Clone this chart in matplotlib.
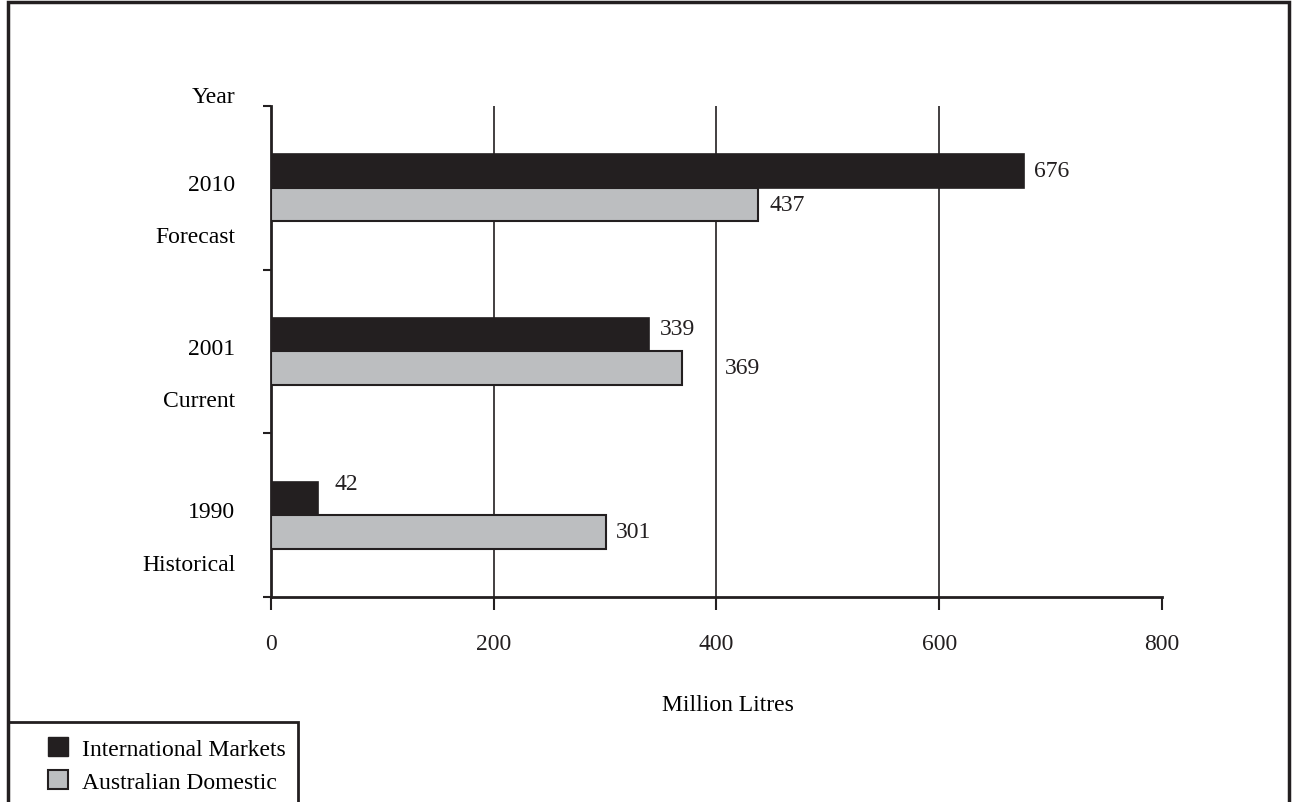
import matplotlib
matplotlib.use("Agg")
import matplotlib.pyplot as plt
from matplotlib.patches import Rectangle, Patch
import numpy as np

# données
years = ["1990", "2001", "2010"]
periods = ["Historical", "Current", "Forecast"]
international = [42, 339, 676]
domestic = [301, 369, 437]
xticks = [0, 200, 400, 600, 800]

plt.rcParams["font.family"] = ["Liberation Serif", "DejaVu Serif"]
plt.rcParams["font.size"] = 17

BLACK = "#231f20"
GREY = "#bcbec0"

fig = plt.figure(figsize=(12.94, 8.03), dpi=100)
ax = fig.add_axes([0.2094, 0.2553, 0.6886, 0.6115])

y = np.arange(len(years))
h = 0.205
ax.barh(y + h / 2, international, height=h, color=BLACK, edgecolor=BLACK, linewidth=1.2, zorder=3)
ax.barh(y - h / 2, domestic, height=h, color=GREY, edgecolor=BLACK, linewidth=1.5, zorder=3)

# étiquettes de valeurs (petits décalages en pixels)
nudge_int = [(17, 15), (11, 6), (10, 1)]
nudge_dom = [(10, 0), (43, 1), (12, 0)]
for i in range(len(years)):
    ax.annotate(str(international[i]), (international[i], y[i] + h / 2),
                xytext=nudge_int[i], textcoords="offset pixels",
                ha="left", va="center", color=BLACK)
    ax.annotate(str(domestic[i]), (domestic[i], y[i] - h / 2),
                xytext=nudge_dom[i], textcoords="offset pixels",
                ha="left", va="center", color=BLACK)

ax.set_xlim(0, 800)
ax.set_ylim(-0.5, 2.5)
ax.set_xticks(xticks)
ax.set_xticklabels([str(v) for v in xticks])
ax.set_yticks([-0.5, 0.5, 1.5, 2.5])
ax.set_yticklabels([])
ax.tick_params(axis="x", direction="out", length=9, width=1.5, pad=17, colors=BLACK)
ax.tick_params(axis="y", direction="out", length=6, width=1.5, colors=BLACK)

for s in ["top", "right"]:
    ax.spines[s].set_visible(False)
for s in ["left", "bottom"]:
    ax.spines[s].set_linewidth(2)
    ax.spines[s].set_color(BLACK)

for v in xticks[1:-1]:
    ax.axvline(v, color=BLACK, linewidth=1.2, zorder=1)

# libellés de catégories à gauche
lab_x = -0.04
ax.text(lab_x, 2.56, "Year", transform=ax.get_yaxis_transform(), ha="right", va="center")
for i in range(len(years)):
    ax.text(lab_x, y[i] + 0.02, years[i], transform=ax.get_yaxis_transform(),
            ha="right", va="center")
    ax.text(lab_x, y[i] - 0.30, periods[i], transform=ax.get_yaxis_transform(),
            ha="right", va="center")

ax.text(0.513, -0.218, "Million Litres", transform=ax.transAxes, ha="center", va="center")

# cadre extérieur
fig.patches.append(Rectangle((0.006, -0.01), 0.99, 1.006, transform=fig.transFigure,
                             fill=False, edgecolor=BLACK, linewidth=2.5))
# cadre de la légende
fig.patches.append(Rectangle((0.006, -0.01), 0.224, 0.11, transform=fig.transFigure,
                             fill=False, edgecolor=BLACK, linewidth=2))
handles = [Patch(facecolor=BLACK, edgecolor=BLACK, label="International Markets"),
           Patch(facecolor=GREY, edgecolor=BLACK, linewidth=1.5, label="Australian Domestic")]
fig.legend(handles=handles, loc="upper left", bbox_to_anchor=(0.028, 0.0955),
           frameon=False, handlelength=0.85, handleheight=0.85, handletextpad=0.6,
           labelspacing=0.45, borderpad=0, fontsize=17)

plt.savefig("out.png", dpi=100)
